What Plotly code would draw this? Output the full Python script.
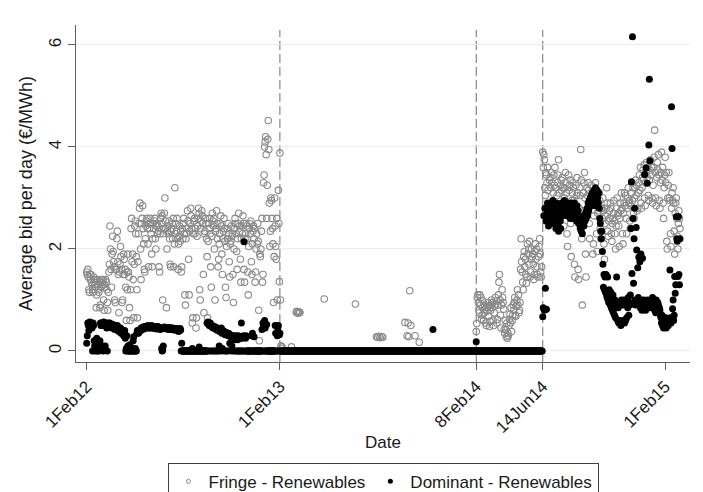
import pandas as pd
import plotly.graph_objects as go

# ---------------------------------------------------------------------------
# Daily average bids (EUR/MWh) of renewable units
# ---------------------------------------------------------------------------

# Fringe firms, one value per day from 1 Feb 2012
fringe_2012_start = "2012-02-01"
fringe_2012 = [
    1.55, 1.5, 1.6, 1.45, 1.2, 1.15, 1.5, 1.4, 1.5, 1.35, 1.3, 1.2, 1.15, 1.45,
    1.35, 1.4, 1.3, 1.25, 0.85, 1.1, 1.4, 1.3, 1.2, 1.15, 1.35, 0.85, 0.9, 1.25,
    1.4, 1.35, 1.3, 1.4, 1.0, 0.8, 1.3, 1.25, 1.4, 1.35, 1.2, 0.95, 0.8, 1.15,
    1.55, 1.7, 2.45, 2.0, 1.6, 1.25, 1.9, 2.25, 1.95, 1.75, 1.65, 1.0, 0.95, 1.6,
    1.6, 2.2, 2.35, 1.75, 1.5, 0.75, 1.55, 1.7, 2.05, 1.85, 1.6, 0.95, 1.0, 1.5,
    1.9, 1.8, 1.5, 1.6, 1.25, 0.6, 1.55, 1.2, 1.9, 1.55, 1.45, 0.85, 0.6, 1.2,
    2.4, 2.6, 1.75, 1.9, 1.4, 0.65, 1.7, 2.45, 2.55, 2.3, 1.85, 1.2, 0.65, 1.75,
    2.3, 2.5, 2.8, 2.9, 2.0, 1.4, 2.5, 2.6, 2.85, 2.4, 2.1, 1.6, 1.55, 2.2,
    2.45, 2.55, 2.6, 2.4, 2.1, 1.65, 2.5, 2.4, 2.6, 2.5, 2.3, 1.9, 1.65, 2.2,
    2.5, 2.4, 2.55, 2.6, 2.2, 2.0, 2.45, 2.5, 2.3, 2.45, 2.35, 1.65, 1.55, 2.3,
    2.6, 2.7, 2.5, 2.65, 1.0, 2.3, 2.4, 2.7, 3.0, 2.55, 2.4, 0.85, 2.0, 2.35,
    2.45, 2.3, 2.55, 2.2, 1.7, 1.65, 2.35, 2.4, 2.5, 2.2, 2.6, 1.65, 2.1, 3.2,
    2.3, 2.5, 2.35, 2.6, 2.2, 1.6, 2.1, 2.25, 2.45, 2.15, 2.35, 1.55, 1.65, 2.4,
    2.2, 2.5, 2.6, 2.3, 1.1, 0.9, 2.2, 2.3, 2.4, 2.75, 2.55, 1.8, 1.1, 2.35,
    2.5, 2.8, 2.65, 2.4, 0.55, 0.65, 2.3, 2.55, 2.6, 2.3, 2.4, 0.45, 0.65, 2.25,
    2.45, 2.6, 2.8, 2.7, 1.2, 1.0, 2.4, 2.55, 2.75, 2.65, 2.5, 1.5, 0.75, 2.3,
    2.35, 2.6, 2.5, 2.2, 1.85, 0.65, 2.15, 2.5, 2.4, 2.6, 2.3, 1.65, 1.25, 2.25,
    2.7, 2.55, 2.45, 2.6, 2.0, 1.0, 2.35, 2.4, 2.75, 2.5, 2.2, 1.65, 1.8, 2.1,
    2.3, 2.5, 2.65, 2.45, 1.9, 1.5, 2.2, 2.35, 2.6, 2.4, 2.15, 1.25, 1.05, 2.05,
    2.4, 2.2, 2.5, 2.3, 1.75, 1.45, 2.1, 2.15, 2.45, 2.25, 2.3, 1.5, 0.95, 2.0,
    2.4, 2.6, 2.5, 2.3, 1.95, 1.6, 2.2, 2.5, 2.7, 2.45, 2.35, 1.8, 1.35, 2.2,
    2.45, 2.3, 2.65, 2.5, 1.6, 1.35, 2.2, 2.3, 2.5, 2.45, 2.2, 1.55, 1.1, 2.05,
    2.4, 2.5, 2.3, 2.55, 1.75, 1.5, 2.1, 2.35, 2.45, 2.2, 2.4, 1.35, 1.55, 2.0,
    2.3, 2.1, 2.5, 2.15, 0.8, 0.2, 1.9, 1.85, 2.0, 2.35, 2.6, 1.35, 1.5, 3.3,
    3.45, 4.0, 4.1, 4.2, 3.85, 2.6, 3.25, 4.15, 4.52, 3.95, 2.9, 2.05, 2.35, 3.0,
    2.95, 2.6, 2.4, 2.1, 0.95, 1.85, 3.0, 2.45, 2.05, 1.8, 2.6, 1.0, 0.35, 3.15,
    2.5, 1.36, 3.88, 1.0, 0.1, 0.05, 0.08,
]

# Fringe firms, scattered non-zero days during 2013
fringe_2013_dates = [
    "2013-02-23", "2013-03-04", "2013-03-05", "2013-03-07", "2013-03-08",
    "2013-03-10", "2013-03-11", "2013-04-26", "2013-06-24", "2013-08-03",
    "2013-08-05", "2013-08-08", "2013-08-10", "2013-08-13", "2013-08-15",
    "2013-09-26", "2013-09-30", "2013-10-02", "2013-10-03", "2013-10-05",
    "2013-10-07", "2013-10-15", "2013-10-23",
]
fringe_2013 = [
    0.08, 0.76, 0.78, 0.74, 0.77, 0.75, 0.76, 1.02, 0.92, 0.28,
    0.27, 0.29, 0.26, 0.28, 0.27,
    0.56, 0.30, 0.55, 0.28, 1.18, 0.50, 0.30, 0.17,
]

# Fringe firms, daily from 8 Feb 2014
fringe_2014a_start = "2014-02-08"
fringe_2014a = [
    0.38, 0.54, 1.05, 1.1, 0.95, 0.8, 0.75, 1.1, 0.9, 1.05, 0.62, 0.7, 0.85, 0.98,
    0.6, 0.75, 0.9, 0.82, 0.55, 0.5, 0.78, 0.85, 0.95, 0.68, 0.88, 0.48, 0.58, 0.8,
    0.9, 1.0, 0.85, 0.95, 0.6, 0.5, 0.75, 0.88, 1.05, 0.92, 0.98, 0.55, 0.62, 0.9,
    1.1, 1.35, 1.5, 1.0, 0.7, 0.45, 0.9, 1.2, 1.05, 0.95, 0.82, 0.42, 0.35, 0.6,
    0.42, 0.28, 0.55, 0.25, 0.35, 0.3, 0.5, 0.62, 0.72, 0.55, 0.85, 0.38, 0.6, 0.7,
    0.9, 0.8, 0.95, 1.05, 0.7, 0.68, 0.88, 1.0, 1.2, 0.9, 1.1, 0.75, 0.8, 0.95,
    1.6, 2.2, 1.75, 1.55, 1.35, 1.2, 1.85, 1.95, 1.65, 1.8, 1.5, 1.33, 1.45, 2.1,
    1.9, 2.0, 1.7, 2.15, 1.45, 1.55, 1.8, 2.0, 1.85, 1.9, 1.7, 1.4, 1.5, 1.95,
    2.1, 1.8, 2.0, 1.65, 1.5, 1.45, 1.85, 2.05, 2.2, 1.9, 1.55, 1.45, 1.65,
]

# Fringe firms, daily from 14 Jun 2014
fringe_2014b_start = "2014-06-14"
fringe_2014b = [
    3.9, 3.6, 3.85, 3.75, 3.2, 3.05, 3.5, 3.45, 3.3, 3.6, 3.15, 2.6, 2.85, 3.35,
    3.4, 3.2, 3.5, 3.3, 2.9, 2.7, 3.1, 3.45, 3.25, 3.6, 3.2, 2.65, 2.5, 3.05,
    3.3, 3.45, 3.75, 3.1, 2.8, 2.55, 3.25, 3.35, 3.15, 3.4, 3.2, 2.7, 2.45, 3.0,
    3.2, 3.5, 3.3, 3.1, 2.3, 2.05, 2.9, 3.45, 3.15, 3.25, 3.35, 2.5, 1.85, 2.95,
    3.1, 3.3, 3.2, 2.95, 1.7, 1.45, 2.6, 3.25, 3.05, 3.4, 3.1, 1.6, 1.4, 2.8,
    3.2, 3.05, 3.95, 3.35, 2.2, 0.9, 2.75, 3.1, 3.3, 3.5, 3.0, 1.9, 1.45, 2.7,
    3.2, 3.05, 3.3, 3.15, 2.5, 2.2, 2.85, 3.0, 3.25, 2.95, 3.1, 1.9, 2.1, 2.65,
    3.0, 2.85, 3.3, 3.1, 2.3, 1.95, 2.7, 2.9, 2.75, 3.1, 2.95, 2.4, 2.2, 2.8,
    2.8, 2.6, 3.0, 2.75, 2.1, 1.8, 2.5, 2.65, 2.8, 3.2, 2.9, 2.35, 2.25, 2.55,
    2.75, 2.6, 2.9, 2.8, 2.3, 2.15, 2.5, 2.6, 2.7, 2.95, 2.55, 2.3, 2.0, 2.45,
    2.8, 3.0, 2.65, 2.7, 2.45, 2.05, 2.6, 2.9, 2.75, 3.1, 2.8, 2.3, 2.1, 2.7,
    2.9, 3.1, 2.85, 3.05, 2.6, 2.3, 2.8, 3.0, 3.2, 2.9, 2.95, 2.55, 2.4, 2.85,
    3.1, 3.3, 2.95, 3.2, 2.7, 2.6, 3.0, 3.2, 3.35, 3.05, 3.25, 2.75, 2.8, 3.1,
    3.3, 3.45, 3.15, 3.6, 2.9, 2.8, 3.2, 3.4, 3.55, 3.35, 3.65, 3.0, 2.85, 3.3,
    3.5, 3.7, 3.4, 3.6, 3.05, 2.95, 3.35, 3.55, 3.75, 3.45, 3.6, 3.0, 2.9, 3.25,
    3.6, 3.8, 4.33, 3.5, 3.0, 2.85, 3.4, 3.7, 3.55, 3.85, 3.45, 2.95, 2.8, 3.3,
    3.5, 3.9, 3.35, 3.6, 2.9, 2.6, 3.2, 3.45, 3.8, 3.3, 3.5, 2.15, 2.0, 3.0,
    3.25, 3.5, 3.0, 2.95, 2.3, 2.05, 2.8, 3.1, 2.95, 3.2, 2.9, 2.35, 1.9, 2.7,
    2.9, 3.0, 2.6, 2.25, 2.0, 2.5, 2.75, 2.6, 2.4,
]

# Dominant firms, one value per day from 1 Feb 2012
dominant_2012_start = "2012-02-01"
dominant_2012 = [
    0.15, 0.3, 0.55, 0.5, 0.4, 0.55, 0.57, 0.5, 0.55, 0.52, 0.45, 0.0, 0.55, 0.5,
    0.2, 0.1, 0.0, 0.15, 0.05, 0.25, 0.0, 0.12, 0.18, 0.0, 0.05, 0.2, 0.55, 0.5,
    0.55, 0.5, 0.1, 0.0, 0.57, 0.5, 0.55, 0.1, 0.52, 0.55, 0.45, 0.0, 0.5, 0.55,
    0.5, 0.52, 0.55, 0.48, 0.5, 0.45, 0.5, 0.48, 0.52, 0.45, 0.5, 0.42, 0.47, 0.45,
    0.45, 0.42, 0.5, 0.4, 0.45, 0.38, 0.42, 0.4, 0.45, 0.35, 0.42, 0.38, 0.4, 0.35,
    0.3, 0.35, 0.4, 0.25, 0.0, 0.05, 0.3, 0.0, 0.1, 0.0, 0.05, 0.0, 0.12, 0.0,
    0.0, 0.0, 0.05, 0.0, 0.2, 0.28, 0.0, 0.0, 0.05, 0.0, 0.0, 0.35, 0.4, 0.38,
    0.35, 0.4, 0.38, 0.42, 0.4, 0.45, 0.43, 0.45, 0.42, 0.47, 0.44, 0.45, 0.48, 0.45,
    0.45, 0.48, 0.47, 0.45, 0.5, 0.47, 0.45, 0.48, 0.46, 0.45, 0.48, 0.5, 0.47, 0.45,
    0.47, 0.45, 0.48, 0.44, 0.46, 0.45, 0.43, 0.47, 0.45, 0.48, 0.44, 0.45, 0.46, 0.42,
    0.45, 0.43, 0.05, 0.0, 0.02, 0.1, 0.45, 0.47, 0.44, 0.46, 0.45, 0.43, 0.45, 0.44,
    0.43, 0.45, 0.42, 0.46, 0.44, 0.43, 0.45, 0.42, 0.44, 0.45, 0.43, 0.41, 0.44, 0.42,
    0.43, 0.41, 0.44, 0.42, 0.4, 0.43, 0.38, 0.42, 0.4, 0.44, 0.41, 0.0, 0.15, 0.0,
    0.0, 0.0, 0.0, 0.0, 0.0, 0.0, 0.0, 0.0, 0.0, 0.0, 0.0, 0.0, 0.0, 0.0,
    0.0, 0.0, 0.0, 0.0, 0.05, 0.0, 0.0, 0.0, 0.0, 0.0, 0.0, 0.0, 0.0, 0.0,
    0.0, 0.0, 0.0, 0.08, 0.0, 0.0, 0.0, 0.0, 0.0, 0.0, 0.0, 0.0, 0.0, 0.0,
    0.0, 0.0, 0.0, 0.0,
    0.55, 0.0, 0.57, 0.52, 0.5, 0.0, 0.55, 0.5, 0.48, 0.0, 0.5, 0.45, 0.0, 0.48,
    0.45, 0.0, 0.47, 0.42, 0.0, 0.45, 0.4, 0.0, 0.42, 0.1, 0.38, 0.4, 0.0, 0.45,
    0.35, 0.05, 0.4, 0.38, 0.0, 0.35, 0.32, 0.37, 0.0, 0.33, 0.35, 0.0, 0.3, 0.35,
    0.3, 0.15, 0.32, 0.28, 0.0, 0.1, 0.3, 0.25, 0.3, 0.0, 0.28, 0.22, 0.0, 0.3,
    0.25, 0.0, 0.22, 0.3, 0.0, 0.0, 0.28, 0.25, 0.0, 0.55, 0.25, 0.0, 0.0, 0.3,
    2.14, 0.28, 0.0, 0.25, 0.3, 0.0, 0.0, 0.0, 0.0, 0.0, 0.0, 0.0, 0.0, 0.0,
    0.3, 0.0, 0.35, 0.0, 0.0, 0.28, 0.0, 0.0, 0.0, 0.0, 0.0, 0.0, 0.0, 0.0,
    0.0, 0.0, 0.0, 0.0, 0.0, 0.0, 0.42, 0.0, 0.55, 0.48, 0.0, 0.6, 0.45, 0.0,
    0.0, 0.52, 0.0, 0.0, 0.0, 0.0, 0.0, 0.0, 0.0, 0.0, 0.0, 0.0, 0.0, 0.0,
    0.0, 0.0, 0.0, 0.5, 0.35, 0.0, 0.0, 0.3, 0.45, 0.5, 0.0, 0.32, 0.35, 0.0,
    0.0, 0.0, 0.0,
]

# Dominant firms bid zero every day between these dates, apart from two days
dominant_flat_first = "2013-02-06"
dominant_flat_last = "2014-06-13"
dominant_flat_value = 0.0
dominant_flat_exceptions = {"2013-11-18": 0.42, "2014-02-08": 0.18}

# Dominant firms, daily from 14 Jun 2014
dominant_2014_start = "2014-06-14"
dominant_2014 = [
    0.67, 0.85, 2.65, 0.8, 2.8, 1.23, 2.55, 0.82, 2.7, 2.9, 2.6, 2.45, 2.75, 2.65,
    2.7, 2.85, 2.6, 2.5, 2.75, 2.95, 2.65, 2.8, 2.55, 2.7, 2.6, 2.4, 2.9, 2.75,
    2.6, 2.45, 2.35, 2.7, 2.8, 2.55, 2.4, 2.75, 2.9, 2.85, 2.65, 2.7, 2.8, 2.95,
    2.8, 2.7, 2.85, 2.75, 2.9, 2.65, 2.8, 2.7, 2.85, 2.75, 2.6, 2.8, 2.9, 2.7,
    2.75, 2.6, 2.85, 2.7, 2.9, 2.65, 2.8, 2.7, 2.55, 2.85, 2.6, 2.75, 2.5, 2.65,
    2.5, 2.4, 2.55, 2.35, 2.45, 2.3, 2.6, 2.5, 2.45, 2.65, 2.55, 2.7, 2.6, 2.75,
    2.8, 2.65, 2.9, 2.75, 2.95, 2.85, 3.0, 2.9, 3.05, 2.85, 3.1, 2.95, 3.0, 3.15,
    3.1, 2.95, 3.2, 3.05, 2.85, 3.15, 3.0, 2.9, 3.1, 2.8, 2.6, 2.5, 2.35, 2.2,
    2.35, 1.95, 1.7, 1.25, 1.5, 1.2, 1.45, 1.15, 1.5, 1.1, 1.05, 1.45, 1.0, 0.95,
    1.2, 1.05, 0.9, 1.15, 0.85, 1.0, 0.8, 1.1, 0.75, 0.95, 0.7, 1.0, 0.65, 0.9,
    1.45, 0.95, 0.6, 0.85, 0.55, 0.9, 0.6, 0.95, 0.5, 1.0, 0.55, 0.9, 0.6, 0.95,
    1.0, 0.55, 0.9, 0.6, 1.0, 0.65, 0.95, 0.85, 1.05, 0.7, 0.95, 0.9, 1.1, 2.4,
    3.32, 1.52, 6.16, 2.6, 1.33, 2.2, 2.8, 1.0, 0.9, 2.42, 1.98, 0.95, 1.63, 1.05,
    1.84, 0.9, 1.75, 0.85, 1.9, 1.0, 0.8, 1.82, 0.95, 0.85, 1.0, 3.46, 0.9, 0.8,
    3.59, 0.95, 3.29, 1.0, 0.9, 4.04, 5.33, 3.73, 0.85, 1.0, 0.9, 0.95, 1.05, 0.85,
    0.9, 1.0, 0.8, 0.95, 0.75, 1.0, 0.85, 0.8, 0.95, 0.9, 0.75, 0.85, 0.8, 0.7,
    0.65, 0.55, 0.7, 0.5, 0.6, 0.45, 0.55, 0.6, 0.5, 0.65, 0.45, 0.55, 0.5, 0.6,
    0.5, 0.55, 0.6, 1.59, 0.65, 0.55, 4.79, 3.97, 0.83, 1.0, 0.6, 0.7, 1.46, 1.13,
    1.3, 2.63, 2.2, 2.15, 1.46, 2.63, 1.5, 1.3, 2.2,
]

# Market events marked on the time axis
event_dates = ["2013-02-01", "2014-02-08", "2014-06-14"]
tick_dates = ["2012-02-01", "2013-02-01", "2014-02-08", "2014-06-14", "2015-02-01"]
tick_labels = ["1Feb12", "1Feb13", "8Feb14", "14Jun14", "1Feb15"]
y_ticks = [0, 2, 4, 6]


def daily(start, values):
    dates = pd.date_range(start, periods=len(values), freq="D")
    return list(dates), list(values)


fx, fy = [], []
for start, vals in [(fringe_2012_start, fringe_2012),
                    (fringe_2014a_start, fringe_2014a),
                    (fringe_2014b_start, fringe_2014b)]:
    d, v = daily(start, vals)
    fx += d
    fy += v
fx += list(pd.to_datetime(fringe_2013_dates))
fy += fringe_2013

dx, dy = [], []
d, v = daily(dominant_2012_start, dominant_2012)
dx += d
dy += v
flat_days = pd.date_range(dominant_flat_first, dominant_flat_last, freq="D")
for day in flat_days:
    dx.append(day)
    dy.append(dominant_flat_exceptions.get(day.strftime("%Y-%m-%d"), dominant_flat_value))
d, v = daily(dominant_2014_start, dominant_2014)
dx += d
dy += v

FONT = "Liberation Sans, Arial, sans-serif"
TEXT = "#1a1a1a"
AXIS = "#5f5f5f"
FRINGE = "#8a8a8a"

fig = go.Figure()
fig.add_trace(go.Scatter(
    x=fx, y=fy, mode="markers", name="Fringe - Renewables", showlegend=False,
    marker=dict(symbol="circle-open", size=6.5, color=FRINGE,
                line=dict(width=1.1, color=FRINGE)),
))
fig.add_trace(go.Scatter(
    x=dx, y=dy, mode="markers", name="Dominant - Renewables", showlegend=False,
    marker=dict(symbol="circle", size=7, color="black", line=dict(width=0)),
))
# Legend keys drawn with smaller symbols
fig.add_trace(go.Scatter(
    x=[None], y=[None], mode="markers", name="Fringe - Renewables",
    marker=dict(symbol="circle-open", size=4, color=FRINGE, line=dict(width=1, color=FRINGE)),
))
fig.add_trace(go.Scatter(
    x=[None], y=[None], mode="markers", name="Dominant - Renewables",
    marker=dict(symbol="circle", size=5, color="black", line=dict(width=0)),
))

for ev in event_dates:
    fig.add_shape(type="line", xref="x", yref="paper", x0=ev, x1=ev, y0=0, y1=0.985,
                  line=dict(color="#6e6e6e", width=1, dash="9px,4px"), layer="below")

fig.update_layout(
    width=703, height=492,
    margin=dict(l=76, r=13, t=25, b=130, autoexpand=False),
    paper_bgcolor="white", plot_bgcolor="white",
    font=dict(family=FONT, size=17, color=TEXT),
    showlegend=True,
    legend=dict(orientation="h", x=0.5, xanchor="center", y=-0.299, yanchor="top",
                bordercolor="#404040", borderwidth=1, bgcolor="white",
                font=dict(family=FONT, size=17, color=TEXT),
                itemwidth=30, tracegroupgap=0),
    xaxis=dict(
        type="date", range=["2012-01-11 16:00", "2015-03-20"],
        tickmode="array", tickvals=tick_dates, ticktext=tick_labels,
        tickangle=-45, ticks="outside", ticklen=7, tickcolor=AXIS, tickwidth=1,
        showline=True, linecolor=AXIS, linewidth=1, showgrid=False, zeroline=False,
        tickfont=dict(family=FONT, size=17, color=TEXT),
        title=dict(text="Date", font=dict(family=FONT, size=17, color=TEXT), standoff=0),
    ),
    yaxis=dict(
        range=[-0.216, 6.392], tickmode="array", tickvals=y_ticks,
        tickangle=-90, ticks="outside", ticklen=7, tickcolor=AXIS, tickwidth=1,
        showline=True, linecolor=AXIS, linewidth=1,
        showgrid=True, gridcolor="#e6eef0", gridwidth=1, zeroline=False,
        tickfont=dict(family=FONT, size=17, color=TEXT),
        title=dict(text="Average bid per day (€/MWh)",
                   font=dict(family=FONT, size=18, color=TEXT), standoff=8),
    ),
)

fig.write_html("out.html")
